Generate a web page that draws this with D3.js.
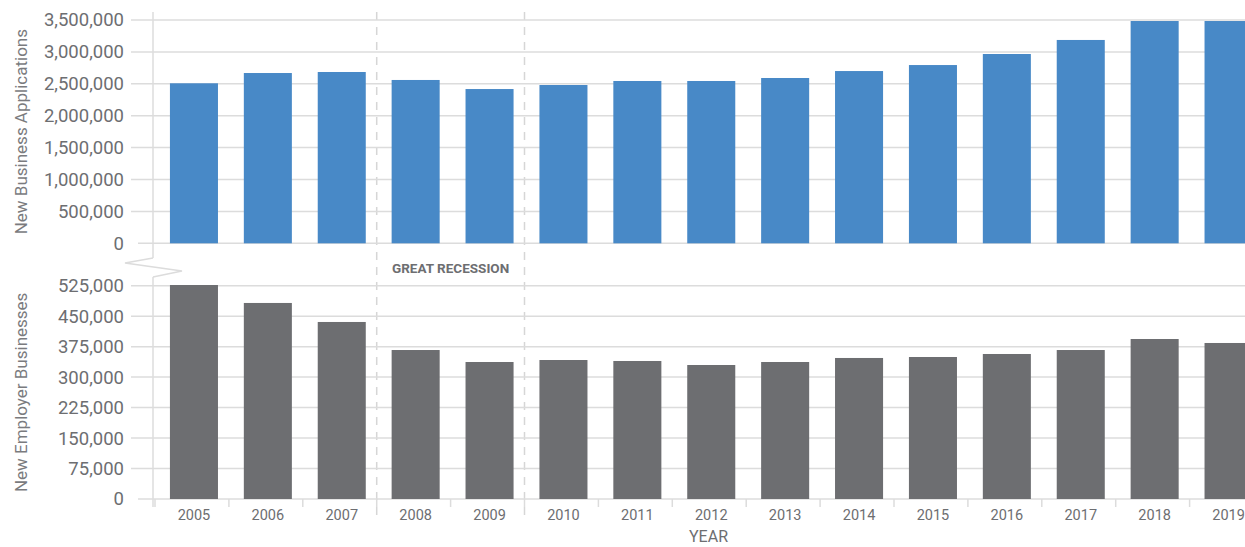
<!DOCTYPE html>
<html>
<head>
<meta charset="utf-8">
<script src="https://cdn.jsdelivr.net/npm/d3@7"></script>
<style>
   body { margin: 0; background: #fff; }
   text { font-family: Roboto, "Liberation Sans", sans-serif; }
</style>
</head>
<body>
<div id="chart"></div>
<script>
var years = ["2005", "2006", "2007", "2008", "2009", "2010", "2011", "2012", "2013", "2014", "2015", "2016", "2017", "2018", "2019"];
// new business applications (top panel)
var applications = [2508000, 2669000, 2685000, 2560000, 2418000, 2481000, 2544000, 2544000, 2591000, 2700000, 2794000, 2967000, 3187000, 3484000, 3484000];
// new employer businesses (bottom panel)
var employers = [526700, 482500, 435700, 366700, 337200, 342100, 339700, 329800, 337200, 347100, 349500, 356900, 366700, 393800, 384000];
var appTicks = [0, 500000, 1000000, 1500000, 2000000, 2500000, 3000000, 3500000];
var empTicks = [0, 75000, 150000, 225000, 300000, 375000, 450000, 525000];
var recession = ["2008", "2009"];

var width = 1245, height = 547;
var axisX = 153;
var textColor = "#6d6e71", gridColor = "#dcdcdc";

var svg = d3.select("#chart").append("svg")
   .attr("width", width)
   .attr("height", height);

// x band, bars a bit right of the band centre like the original
var x = d3.scaleBand()
   .domain(years)
   .range([155, 155 + 15 * 73.9])
   .paddingInner(0.35)
   .paddingOuter(0.175);
var step = x.step();
var barShift = 2;
function bandStart(d) { return x(d) - step * 0.175; }
function barCenter(d) { return x(d) + barShift + x.bandwidth() / 2; }

var yTop = d3.scaleLinear().domain([0, 3500000]).range([243.3, 20]);
var yBot = d3.scaleLinear().domain([0, 525000]).range([499, 285.7]);
var fmt = d3.format(",");

function drawPanel(y, ticks, values, color, title, axisTop, axisBottom) {
   var g = svg.append("g");
   // gridlines
   g.selectAll(".grid").data(ticks).enter().append("line")
      .attr("x1", function(d) { return d == 0 ? 138 : 131; })
      .attr("x2", width)
      .attr("y1", function(d) { return y(d); })
      .attr("y2", function(d) { return y(d); })
      .attr("stroke", gridColor)
      .attr("stroke-width", 1.5);
   g.selectAll(".tick").data(ticks).enter().append("text")
      .attr("x", 124)
      .attr("y", function(d) { return y(d); })
      .attr("dy", "0.35em")
      .attr("text-anchor", "end")
      .attr("fill", textColor)
      .style("font-size", "18.5px")
      .text(fmt);
   // y axis line
   g.append("line")
      .attr("x1", axisX).attr("x2", axisX)
      .attr("y1", axisTop).attr("y2", axisBottom)
      .attr("stroke", gridColor)
      .attr("stroke-width", 1.5);
   g.selectAll(".bar").data(years).enter().append("rect")
      .attr("x", function(d) { return x(d) + barShift; })
      .attr("width", x.bandwidth())
      .attr("y", function(d, i) { return y(values[i]); })
      .attr("height", function(d, i) { return y(0) - y(values[i]); })
      .attr("fill", color);
   var mid = (y.range()[0] + y.range()[1]) / 2;
   g.append("text")
      .attr("transform", "translate(27," + mid + ") rotate(-90)")
      .attr("text-anchor", "middle")
      .attr("fill", "#7a7b7e")
      .style("font-size", "17px")
      .text(title);
}

// dashed recession lines go under the bars
var recStart = bandStart(recession[0]);
var recEnd = bandStart(recession[1]) + step;
svg.selectAll(".rec").data([recStart, recEnd]).enter().append("line")
   .attr("x1", function(d) { return d; })
   .attr("x2", function(d) { return d; })
   .attr("y1", 12)
   .attr("y2", 520)
   .attr("stroke", "#d6d6d6")
   .attr("stroke-width", 1.5)
   .attr("stroke-dasharray", "8,7");

drawPanel(yTop, appTicks, applications, "#4889c7", "New Business Applications", 12, 258);
drawPanel(yBot, empTicks, employers, "#6d6e71", "New Employer Businesses", 277, 507);

// axis break zigzag
svg.append("path")
   .attr("d", "M" + axisX + ",258 L125,263 L182,271 L" + axisX + ",277")
   .attr("fill", "none")
   .attr("stroke", gridColor)
   .attr("stroke-width", 1.5);

svg.append("text")
   .attr("x", (recStart + recEnd) / 2)
   .attr("y", 272.5)
   .attr("text-anchor", "middle")
   .attr("fill", textColor)
   .style("font-size", "13.5px")
   .style("font-weight", "bold")
   .text("GREAT RECESSION");

// x axis ticks and labels
svg.selectAll(".xtick").data(years).enter().append("line")
   .attr("x1", function(d) { return bandStart(d); })
   .attr("x2", function(d) { return bandStart(d); })
   .attr("y1", 499)
   .attr("y2", 507)
   .attr("stroke", gridColor)
   .attr("stroke-width", 1.5);
svg.selectAll(".xlabel").data(years).enter().append("text")
   .attr("x", barCenter)
   .attr("y", 520)
   .attr("text-anchor", "middle")
   .attr("fill", textColor)
   .style("font-size", "14.5px")
   .text(function(d) { return d; });

svg.append("text")
   .attr("x", 708.5)
   .attr("y", 542)
   .attr("text-anchor", "middle")
   .attr("fill", textColor)
   .style("font-size", "16px")
   .text("YEAR");
</script>
</body>
</html>
